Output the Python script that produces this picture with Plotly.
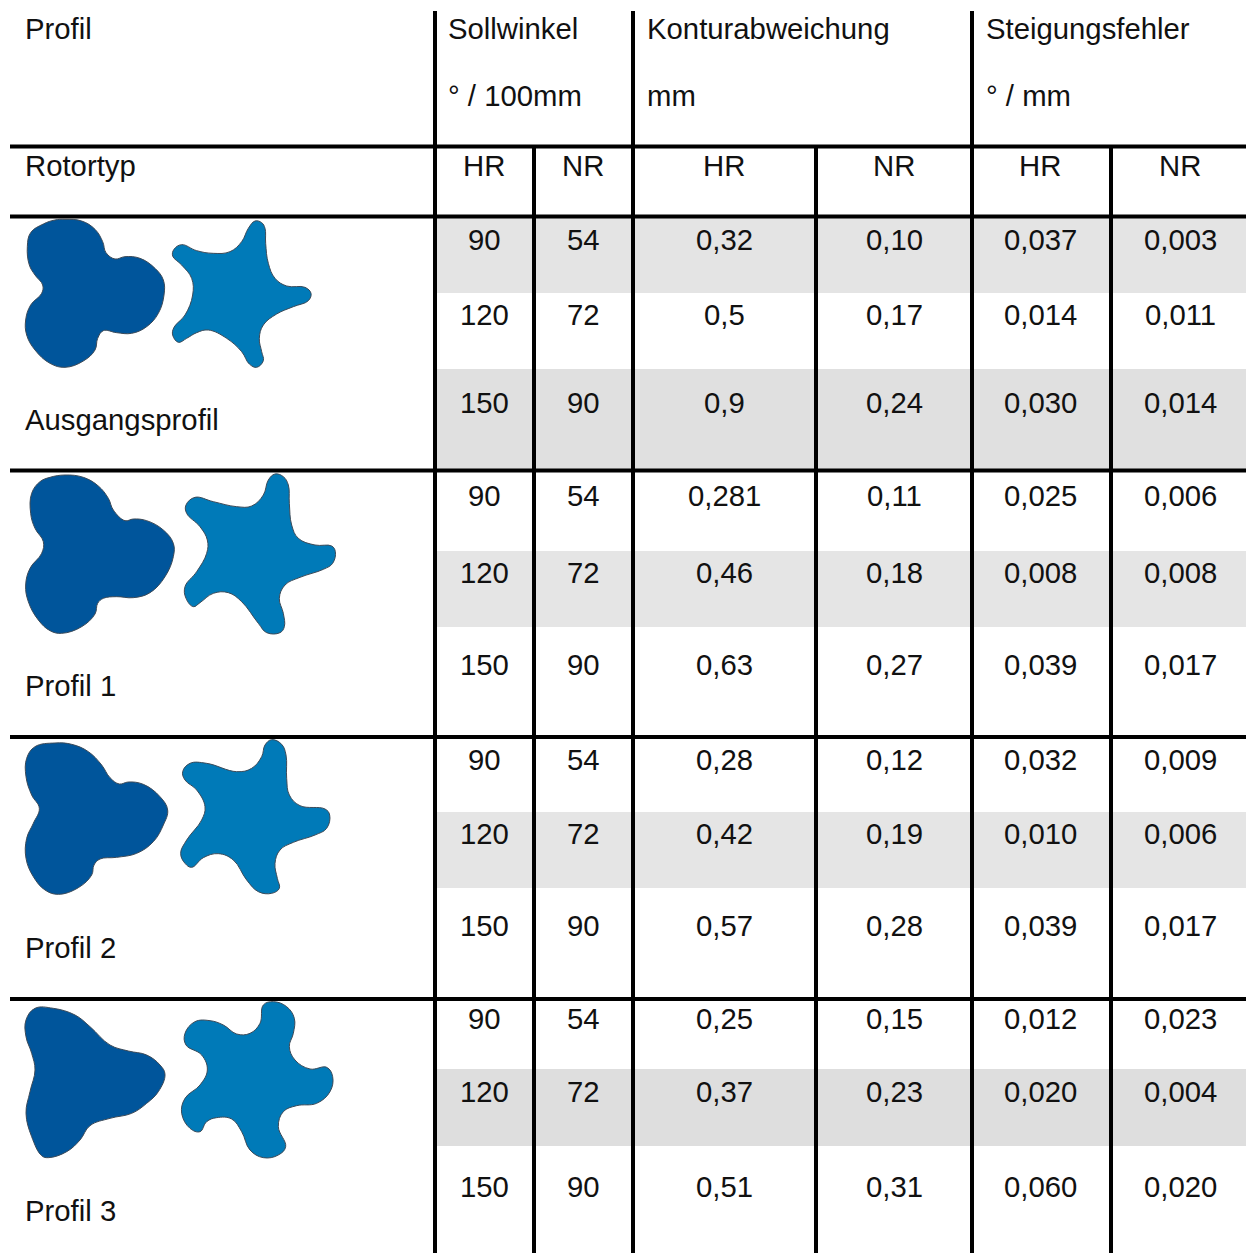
import plotly.graph_objects as go

W, H = 1246, 1253
FONT = "Liberation Sans"
TEXT = "#111111"
DARK = "#00559b"
MID = "#007ab8"
EDGE = "#3c4a58"

col_centers = [484, 583, 724, 894, 1040, 1180]
sollwinkel_hr = ["90", "120", "150"]
sollwinkel_nr = ["54", "72", "90"]
profile_names = ["Ausgangsprofil", "Profil 1", "Profil 2", "Profil 3"]
profile_label_y = [419, 685, 947, 1210]
row_text_y = [[239, 314, 402], [495, 572, 664], [759, 833, 925], [1018, 1091, 1186]]

kontur_hr = [["0,32", "0,5", "0,9"], ["0,281", "0,46", "0,63"], ["0,28", "0,42", "0,57"], ["0,25", "0,37", "0,51"]]
kontur_nr = [["0,10", "0,17", "0,24"], ["0,11", "0,18", "0,27"], ["0,12", "0,19", "0,28"], ["0,15", "0,23", "0,31"]]
steig_hr = [["0,037", "0,014", "0,030"], ["0,025", "0,008", "0,039"], ["0,032", "0,010", "0,039"], ["0,012", "0,020", "0,060"]]
steig_nr = [["0,003", "0,011", "0,014"], ["0,006", "0,008", "0,017"], ["0,009", "0,006", "0,017"], ["0,023", "0,004", "0,020"]]

grid_v_full = [435, 633, 972]
grid_v_sub = [534, 816, 1111]
grid_h = [146.5, 216.5, 470.5, 737, 999]
bands = [(218, 293, "#e4e4e4"), (369, 469, "#e0e0e0"), (551, 627, "#e5e5e5"), (812, 888, "#e5e5e5"), (1069, 1146, "#dedede")]

hr_outlines = [
    (210, [(195,28),(245,33),(285,58),(308,95),(318,128),(345,147),(375,140),(420,145),(465,175),(490,210),(492,255),(475,310),(440,350),(395,370),(350,368),(310,362),(293,385),(285,420),(250,453),(195,472),(150,460),(105,420),(80,375),(77,330),(92,285),(125,250),(128,225),(105,195),(88,165),(82,110),(92,68),(130,42),(165,30)]),
    (470, [(195,15),(250,22),(295,48),(325,85),(340,120),(375,152),(400,147),(440,152),(490,180),(520,220),(520,260),(495,320),(450,368),(400,383),(350,380),(310,385),(293,400),(285,432),(245,470),(185,490),(150,482),(115,450),(85,395),(77,345),(90,295),(125,250),(130,215),(105,175),(92,130),(95,70),(120,35),(150,22)]),
    (735, [(165,24),(215,28),(265,50),(305,90),(330,128),(358,147),(385,141),(430,148),(480,185),(503,225),(490,270),(460,320),(410,355),(350,367),(300,372),(282,390),(275,420),(235,458),(175,478),(135,465),(100,425),(78,370),(80,310),(100,265),(118,220),(95,180),(78,125),(80,70),(105,35)]),
    (995, [(105,40),(160,40),(225,60),(270,95),(330,150),(385,168),(440,180),(480,210),(495,238),(475,290),(440,325),(395,355),(330,370),(270,392),(240,435),(200,470),(145,488),(125,482),(95,425),(78,355),(90,290),(105,225),(95,175),(78,125),(78,75)]),
]
nr_outlines = [
    (210, [(765,33),(785,38),(795,55),(797,100),(805,160),(825,205),(860,228),(915,232),(933,250),(925,272),(880,290),(830,312),(790,345),(778,385),(785,425),(790,452),(770,472),(748,462),(725,425),(680,385),(625,360),(590,368),(560,385),(535,397),(518,375),(522,352),(555,315),(578,255),(575,205),(545,165),(518,138),(522,118),(545,104),(590,122),(640,130),(690,125),(725,95),(745,55)]),
    (470, [(825,12),(850,20),(865,45),(868,100),(875,165),(895,205),(945,225),(995,228),(1006,245),(998,280),(970,298),(900,322),(855,345),(838,385),(850,430),(853,470),(840,488),(800,488),(775,460),(725,395),(685,368),(640,370),(600,398),(580,410),(558,385),(555,350),(590,305),(620,250),(622,210),(600,170),(560,130),(558,105),(585,82),(640,95),(710,110),(755,108),(790,75),(805,30)]),
    (735, [(815,14),(845,28),(858,60),(860,130),(868,180),(900,212),(975,222),(989,240),(980,280),(945,300),(880,322),(840,345),(825,385),(832,430),(838,460),(815,475),(775,470),(740,435),(700,375),(655,356),(610,368),(575,397),(555,385),(542,355),(560,315),(605,255),(615,215),(590,165),(555,135),(548,110),(570,85),(620,85),(710,110),(755,100),(785,65),(795,30)]),
    (995, [(820,20),(860,35),(883,70),(880,115),(868,155),(885,195),(930,222),(980,217),(998,245),(990,290),(950,325),(890,332),(850,350),(835,395),(857,455),(835,480),(790,488),(750,465),(725,410),(695,372),(650,368),(620,380),(600,410),(570,400),(545,355),(555,310),(600,270),(622,225),(605,180),(558,150),(555,115),(585,80),(630,77),(670,90),(710,117),(750,115),(780,85),(790,30)]),
]

fig = go.Figure()


def add_rotor(y0, pts, color):
    xs = [p[0] / 3 for p in pts] + [pts[0][0] / 3]
    ys = [y0 + p[1] / 3 for p in pts] + [y0 + pts[0][1] / 3]
    fig.add_trace(go.Scatter(x=xs, y=ys, mode="lines", fill="toself", fillcolor=color,
                             line=dict(color=EDGE, width=1, shape="spline", smoothing=1.15),
                             hoverinfo="skip", showlegend=False))


for (y0, pts) in hr_outlines:
    add_rotor(y0, pts, DARK)
for (y0, pts) in nr_outlines:
    add_rotor(y0, pts, MID)

shapes = []
for y1, y2, c in bands:
    shapes.append(dict(type="rect", xref="x", yref="y", x0=435, x1=W, y0=y1, y1=y2,
                       fillcolor=c, line_width=0, layer="below"))
for x in grid_v_full:
    shapes.append(dict(type="line", xref="x", yref="y", x0=x, x1=x, y0=11, y1=H, line=dict(color="black", width=4)))
for x in grid_v_sub:
    shapes.append(dict(type="line", xref="x", yref="y", x0=x, x1=x, y0=146, y1=H, line=dict(color="black", width=4)))
for y in grid_h:
    shapes.append(dict(type="line", xref="x", yref="y", x0=10, x1=W, y0=y, y1=y, line=dict(color="black", width=4)))

annotations = []


def txt(x, y, s, anchor="center"):
    annotations.append(dict(x=x, y=y, xref="x", yref="y", text=s, showarrow=False, xanchor=anchor,
                            yanchor="middle", font=dict(family=FONT, size=29.3, color=TEXT)))


for x, y, s in [(23, 28, "Profil"), (446, 28, "Sollwinkel"), (446, 95, "° / 100mm"),
                (645, 28, "Konturabweichung"), (645, 95, "mm"), (984, 28, "Steigungsfehler"),
                (984, 95, "° / mm"), (23, 165, "Rotortyp")]:
    txt(x, y, s, "left")
for x, s in zip(col_centers, ["HR", "NR", "HR", "NR", "HR", "NR"]):
    txt(x, 165, s)
for i, name in enumerate(profile_names):
    txt(23, profile_label_y[i], name, "left")
    for j, y in enumerate(row_text_y[i]):
        row = [sollwinkel_hr[j], sollwinkel_nr[j], kontur_hr[i][j], kontur_nr[i][j], steig_hr[i][j], steig_nr[i][j]]
        for x, s in zip(col_centers, row):
            txt(x, y, s)

fig.update_layout(
    width=W, height=H, margin=dict(l=0, r=0, t=0, b=0),
    paper_bgcolor="white", plot_bgcolor="white", showlegend=False,
    xaxis=dict(range=[0, W], visible=False, fixedrange=True),
    yaxis=dict(range=[H, 0], visible=False, fixedrange=True),
    shapes=shapes, annotations=annotations,
)
fig.write_html("out.html", config={"displayModeBar": False},
               post_script="document.body.style.margin='0';document.documentElement.style.overflow='hidden';")
